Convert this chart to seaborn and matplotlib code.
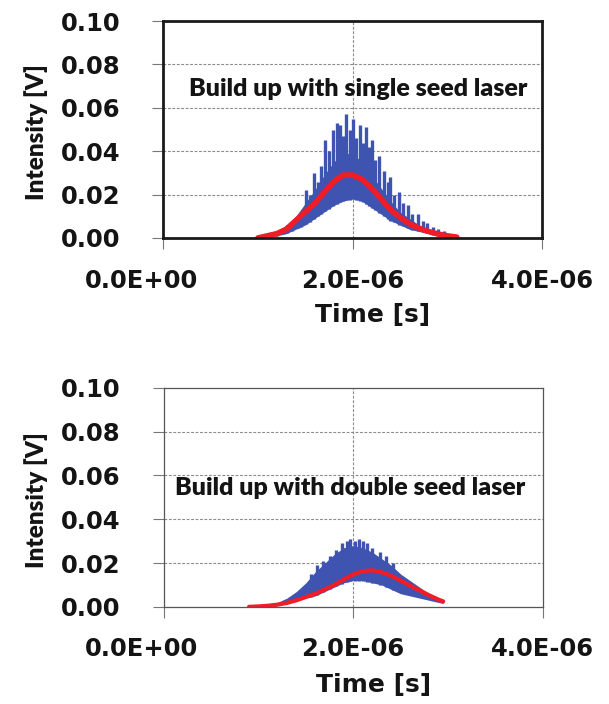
import numpy as np
import matplotlib.pyplot as plt
import matplotlib.transforms as mtransforms
import seaborn as sns

# ---- data (time in microseconds, intensity in V) ----
# single seed laser
t_top = [1.0, 1.1, 1.2, 1.3, 1.4, 1.5, 1.6, 1.7, 1.8, 1.9, 2.0, 2.1,
         2.2, 2.3, 2.4, 2.5, 2.6, 2.7, 2.8, 2.9, 3.0, 3.1]
red_top = [0.0, 0.001, 0.002, 0.004, 0.008, 0.012, 0.016, 0.021, 0.026, 0.029, 0.029, 0.027,
           0.023, 0.018, 0.013, 0.0095, 0.0065, 0.0045, 0.003, 0.0018, 0.001, 0.0004]
blue_lo_top = [0.0, 0.0005, 0.001, 0.002, 0.004, 0.006, 0.009, 0.012, 0.015, 0.017, 0.018, 0.017,
               0.014, 0.011, 0.008, 0.006, 0.004, 0.003, 0.002, 0.001, 0.0005, 0.0]
blue_hi_top = [0.0, 0.001, 0.003, 0.006, 0.010, 0.016, 0.022, 0.029, 0.035, 0.039, 0.039, 0.035,
               0.029, 0.023, 0.017, 0.012, 0.009, 0.006, 0.004, 0.003, 0.0015, 0.0]
spike_t_top = [1.20, 1.26, 1.31, 1.36, 1.42, 1.46, 1.51, 1.55, 1.59, 1.63, 1.67, 1.71, 1.75,
               1.79, 1.83, 1.87, 1.90, 1.93, 1.97, 2.00, 2.04, 2.08, 2.11, 2.14, 2.17, 2.20,
               2.24, 2.28, 2.33, 2.37, 2.40, 2.44, 2.49, 2.53, 2.58, 2.63, 2.69, 2.74, 2.79,
               2.85, 2.90, 2.96]
spike_v_top = [0.003, 0.004, 0.006, 0.007, 0.009, 0.012, 0.022, 0.020, 0.030, 0.026, 0.033, 0.045, 0.040,
               0.050, 0.053, 0.052, 0.047, 0.057, 0.050, 0.055, 0.046, 0.052, 0.044, 0.051, 0.042, 0.045,
               0.036, 0.038, 0.031, 0.026, 0.028, 0.020, 0.021, 0.016, 0.015, 0.011, 0.011, 0.008, 0.007,
               0.005, 0.004, 0.003]

# double seed laser
t_bot = [0.9, 1.0, 1.1, 1.2, 1.3, 1.4, 1.5, 1.6, 1.7, 1.8, 1.9, 2.0,
         2.1, 2.2, 2.3, 2.4, 2.5, 2.6, 2.7, 2.8, 2.9, 2.95]
red_bot = [0.0, 0.0002, 0.0005, 0.001, 0.0018, 0.003, 0.0045, 0.006, 0.008, 0.010, 0.0125, 0.0148,
           0.0163, 0.0167, 0.0158, 0.0142, 0.012, 0.0097, 0.0075, 0.0053, 0.0033, 0.0025]
blue_lo_bot = [0.0, 0.0, 0.0, 0.001, 0.002, 0.003, 0.004, 0.005, 0.007, 0.009, 0.011, 0.012,
               0.012, 0.011, 0.010, 0.008, 0.006, 0.005, 0.004, 0.003, 0.002, 0.0015]
blue_hi_bot = [0.0, 0.0, 0.0005, 0.002, 0.004, 0.007, 0.011, 0.016, 0.020, 0.024, 0.027, 0.028,
               0.027, 0.025, 0.022, 0.019, 0.015, 0.012, 0.009, 0.006, 0.004, 0.003]
spike_t_bot = [1.55, 1.62, 1.68, 1.75, 1.82, 1.88, 1.93, 1.97, 2.02, 2.06, 2.10, 2.15,
               2.20, 2.28, 2.35, 2.42]
spike_v_bot = [0.015, 0.019, 0.021, 0.023, 0.026, 0.029, 0.030, 0.031, 0.030, 0.031, 0.030, 0.029,
               0.027, 0.025, 0.023, 0.020]

xticks = [0.0, 2e-6, 4e-6]
xtick_labels = ['0.0E+00', '2.0E-06', '4.0E-06']
yticks = [0.0, 0.02, 0.04, 0.06, 0.08, 0.10]
ytick_labels = ['0.00', '0.02', '0.04', '0.06', '0.08', '0.10']

BLUE = '#3f53b0'
RED = '#f01c26'
INK = '#141414'

sns.set_style("white")
plt.rcParams['font.family'] = ['DejaVu Sans']

fig = plt.figure(figsize=(6.09, 7.04), dpi=100)
ax1 = fig.add_axes([0.268, 0.662, 0.622, 0.308])
ax2 = fig.add_axes([0.269, 0.138, 0.622, 0.311])

panels = [
    (ax1, t_top, red_top, blue_lo_top, blue_hi_top, spike_t_top, spike_v_top,
     'Build up with single seed laser', (189, 89), 2.0, '#1a1a1a', 4.0),
    (ax2, t_bot, red_bot, blue_lo_bot, blue_hi_bot, spike_t_bot, spike_v_bot,
     'Build up with double seed laser', (175, 488), 0.9, '#555555', 3.0),
]

TICK_LEN = 8
X_PAD = 14

for ax, t, red, lo, hi, st, sv, note, (nx, ny), frame_lw, frame_c, red_lw in panels:
    ts = np.array(t) * 1e-6
    sts = np.array(st) * 1e-6
    ax.fill_between(ts, lo, hi, color=BLUE, lw=0, zorder=2)
    base = np.interp(sts, ts, lo)
    ax.vlines(sts, base, sv, color=BLUE, lw=2.4, zorder=2)
    sns.lineplot(x=ts, y=red, ax=ax, color=RED, lw=red_lw, zorder=3)

    ax.set_xlim(0, 4e-6)
    ax.set_ylim(0, 0.10)
    ax.set_xticks(xticks)
    # first label is drawn separately, shifted left as in the original
    ax.set_xticklabels([''] + xtick_labels[1:], fontsize=17.5, fontweight='bold', color=INK)
    ax.set_yticks(yticks)
    ax.set_yticklabels(ytick_labels, fontsize=17.5, fontweight='bold', color=INK)
    off = mtransforms.ScaledTranslation(-0.22, -(TICK_LEN + X_PAD) / 72, fig.dpi_scale_trans)
    ax.text(0, 0, xtick_labels[0], transform=ax.transAxes + off, ha='center', va='top',
            fontsize=17.5, fontweight='bold', color=INK)

    ax.tick_params(axis='both', direction='out', length=TICK_LEN, width=0.8, color='#777777',
                   bottom=True, left=True)
    ax.tick_params(axis='y', pad=23)
    ax.tick_params(axis='x', pad=X_PAD)

    ax.grid(False)
    for y in yticks[1:-1]:
        ax.axhline(y, color='#8a8a8a', lw=0.8, ls=(0, (2.5, 1.5)), zorder=1)
    ax.axvline(2e-6, color='#8a8a8a', lw=0.8, ls=(0, (2.5, 1.5)), zorder=1)

    for s in ax.spines.values():
        s.set_linewidth(frame_lw)
        s.set_color(frame_c)
        s.set_zorder(4)

    ax.set_xlabel('Time [s]', fontsize=18, fontweight='bold', va='top', color=INK)
    ax.xaxis.set_label_coords(0.553, -0.30)
    ax.set_ylabel('Intensity [V]', fontsize=17.5, fontweight='heavy',
                  family=['Lato', 'DejaVu Sans'], color=INK)
    ax.yaxis.set_label_coords(-0.305, 0.49)

    fig.text(nx / 609, 1 - ny / 704, note, fontsize=18, fontweight='heavy',
             family=['Lato', 'DejaVu Sans'], ha='left', va='center', color=INK)

fig.savefig('out.png', dpi=100)
